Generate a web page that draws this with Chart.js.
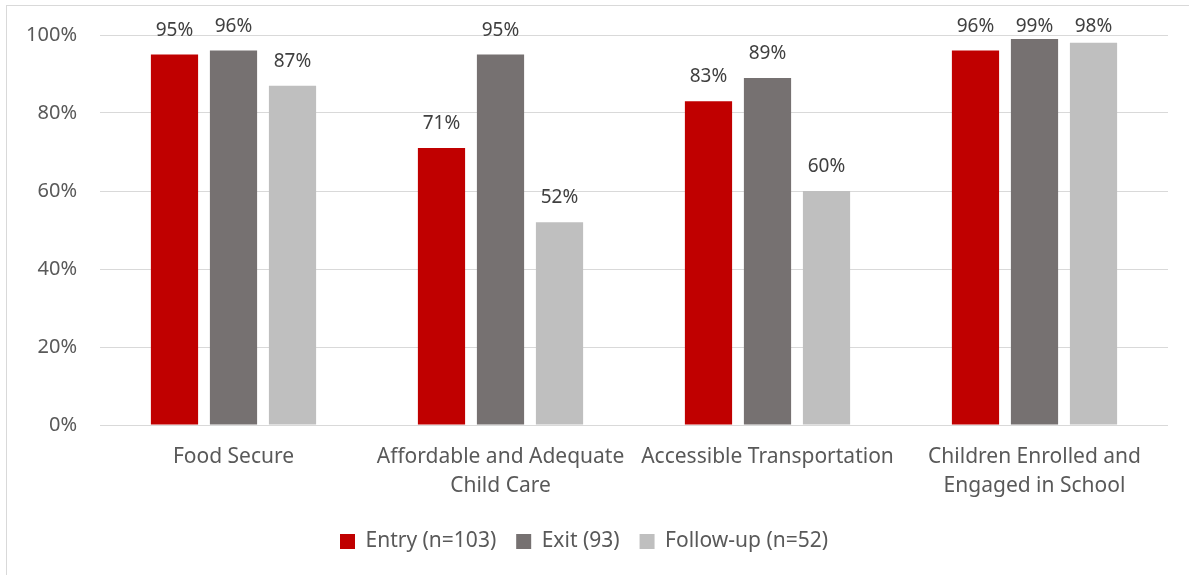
<!DOCTYPE html>
<html>
<head>
<meta charset="utf-8">
<script src="https://cdn.jsdelivr.net/npm/chart.js@4"></script>
<style>
  html, body { margin: 0; padding: 0; background: #fff; }
  #wrap { position: absolute; left: 0; top: 0; width: 1189px; height: 575px; }
</style>
</head>
<body>
<div id="wrap"><canvas id="myChart" width="1189" height="575"></canvas></div>
<script>
const categories = [
    'Food Secure',
    ['Affordable and Adequate', 'Child Care'],
    'Accessible Transportation',
    ['Children Enrolled and', 'Engaged in School']
];
const entryValues = [95, 71, 83, 96];
const exitValues = [96, 95, 89, 99];
const followUpValues = [87, 52, 60, 98];
const yTicks = [0, 20, 40, 60, 80, 100];

const FONT = '"Noto Sans", sans-serif';
const TEXT = '#595959';

// frame around the whole chart
const framePlugin = {
    id: 'frame',
    beforeDraw(chart) {
        const ctx = chart.ctx;
        ctx.save();
        ctx.strokeStyle = '#d9d9d9';
        ctx.lineWidth = 1;
        ctx.strokeRect(6.5, 5.5, 1200, 600);
        ctx.restore();
    }
};

// percentage labels above each bar, kept below the top edge
const valueLabels = {
    id: 'valueLabels',
    afterDatasetsDraw(chart) {
        const ctx = chart.ctx;
        ctx.save();
        ctx.font = '19px ' + FONT;
        ctx.fillStyle = '#404040';
        ctx.textAlign = 'center';
        ctx.textBaseline = 'alphabetic';
        chart.data.datasets.forEach((ds, i) => {
            chart.getDatasetMeta(i).data.forEach((bar, j) => {
                const y = Math.max(bar.y - 19, 32);
                ctx.fillText(ds.data[j] + '%', bar.x, y);
            });
        });
        ctx.restore();
    }
};

const ctx = document.getElementById('myChart').getContext('2d');
new Chart(ctx, {
    type: 'bar',
    data: {
        labels: categories,
        datasets: [
            { label: 'Entry (n=103)', data: entryValues, backgroundColor: '#C00000' },
            { label: 'Exit (93)', data: exitValues, backgroundColor: '#767171' },
            { label: 'Follow-up (n=52)', data: followUpValues, backgroundColor: '#BFBFBF' }
        ]
    },
    options: {
        responsive: false,
        animation: false,
        devicePixelRatio: 1,
        categoryPercentage: 0.663,
        barPercentage: 0.8,
        layout: { padding: { top: 24, right: 21, left: 0, bottom: 13 } },
        plugins: {
            tooltip: { enabled: false },
            legend: {
                position: 'bottom',
                labels: {
                    font: { family: FONT, size: 21 },
                    color: TEXT,
                    boxWidth: 15,
                    boxHeight: 15,
                    padding: 20
                }
            }
        },
        scales: {
            x: {
                grid: { display: false, drawTicks: false },
                border: { display: false },
                ticks: {
                    color: TEXT,
                    font: { family: FONT, size: 21, lineHeight: 1.4 },
                    padding: 17,
                    maxRotation: 0,
                    autoSkip: false
                },
                afterFit(scale) { scale.height = 86; }
            },
            y: {
                min: 0,
                max: 100,
                afterBuildTicks(scale) { scale.ticks = yTicks.map(v => ({ value: v })); },
                grid: { color: '#d9d9d9', lineWidth: 1, drawTicks: false },
                border: { display: false },
                ticks: {
                    color: TEXT,
                    font: { family: FONT, size: 20 },
                    padding: 23,
                    callback: v => v + '%'
                },
                afterFit(scale) { scale.width = 100; }
            }
        }
    },
    plugins: [framePlugin, valueLabels]
});
</script>
</body>
</html>
